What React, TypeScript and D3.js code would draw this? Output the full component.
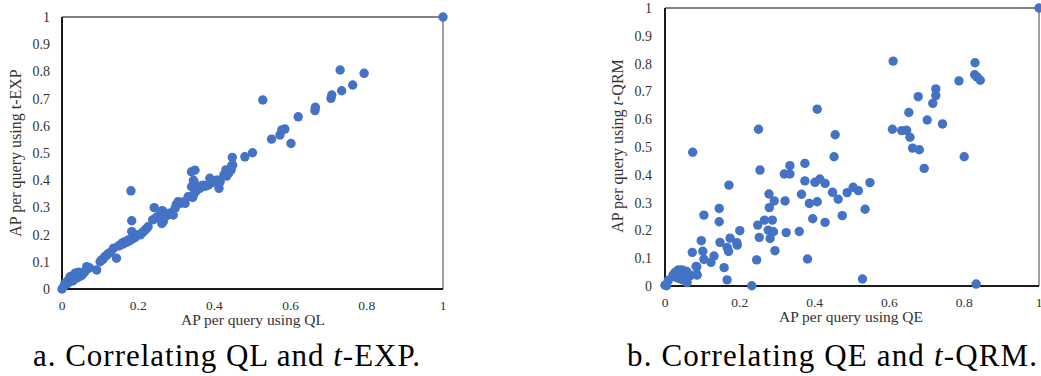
import React from "react";
import * as d3 from "d3";

// ---- Data ----
const yTicks = [0, 0.1, 0.2, 0.3, 0.4, 0.5, 0.6, 0.7, 0.8, 0.9, 1];
const yTickLabels = ["0", "0.1", "0.2", "0.3", "0.4", "0.5", "0.6", "0.7", "0.8", "0.9", "1"];
const xTicks = [0, 0.2, 0.4, 0.6, 0.8, 1];
const xTickLabels = ["0", "0.2", "0.4", "0.6", "0.8", "1"];

// Panel a: QL (x) vs t-EXP (y)
const apQL: number[] = [
  0, 0.005, 0.008, 0.012, 0.015, 0.018, 0.021, 0.022, 0.025, 0.028, 0.03, 0.03, 0.034, 0.035, 0.038, 0.04,
  0.043, 0.045, 0.048, 0.05, 0.052, 0.055, 0.058, 0.06, 0.065, 0.068, 0.072, 0.091, 0.1, 0.104, 0.108, 0.113,
  0.118, 0.122, 0.128, 0.135, 0.143, 0.148, 0.152, 0.157, 0.16, 0.165, 0.17, 0.174, 0.178, 0.181, 0.183, 0.183,
  0.186, 0.192, 0.198, 0.205, 0.21, 0.214, 0.218, 0.222, 0.226, 0.238, 0.242, 0.245, 0.25, 0.255, 0.262, 0.263,
  0.266, 0.262, 0.27, 0.275, 0.28, 0.285, 0.292, 0.297, 0.3, 0.305, 0.31, 0.318, 0.323, 0.331, 0.34, 0.349,
  0.343, 0.345, 0.34, 0.345, 0.347, 0.352, 0.357, 0.362, 0.367, 0.371, 0.376, 0.384, 0.388, 0.392, 0.398, 0.405,
  0.41, 0.412, 0.415, 0.425, 0.43, 0.432, 0.437, 0.441, 0.444, 0.445, 0.448, 0.447, 0.48, 0.5, 0.527, 0.55,
  0.572, 0.577, 0.585, 0.601, 0.62, 0.664, 0.665, 0.706, 0.708, 0.73, 0.734, 0.763, 0.793, 1,
];
const apTEXP: number[] = [
  0, 0.01, 0.021, 0.018, 0.03, 0.025, 0.045, 0.035, 0.04, 0.03, 0.033, 0.05, 0.058, 0.045, 0.04, 0.05,
  0.062, 0.045, 0.055, 0.05, 0.051, 0.058, 0.06, 0.065, 0.082, 0.075, 0.078, 0.07, 0.1, 0.107, 0.11, 0.12,
  0.125, 0.131, 0.135, 0.15, 0.113, 0.158, 0.16, 0.168, 0.165, 0.174, 0.172, 0.18, 0.178, 0.361, 0.251, 0.211,
  0.185, 0.19, 0.2, 0.199, 0.205, 0.212, 0.217, 0.222, 0.229, 0.254, 0.299, 0.26, 0.265, 0.27, 0.257, 0.288,
  0.248, 0.241, 0.28, 0.27, 0.275, 0.28, 0.272, 0.297, 0.31, 0.321, 0.315, 0.32, 0.315, 0.339, 0.431, 0.437,
  0.337, 0.346, 0.376, 0.4, 0.391, 0.36, 0.37, 0.37, 0.38, 0.382, 0.378, 0.382, 0.407, 0.39, 0.395, 0.4,
  0.4, 0.37, 0.394, 0.42, 0.438, 0.415, 0.425, 0.437, 0.438, 0.453, 0.456, 0.484, 0.486, 0.501, 0.695, 0.551,
  0.566, 0.585, 0.588, 0.535, 0.633, 0.656, 0.668, 0.701, 0.713, 0.805, 0.729, 0.75, 0.793, 1,
];

// Panel b: QE (x) vs t-QRM (y)
const apQE: number[] = [
  1, 0.61, 0.829, 0.828, 0.834, 0.843, 0.786, 0.724, 0.724, 0.716, 0.677, 0.652, 0.701, 0.742, 0.608, 0.633,
  0.646, 0.655, 0.662, 0.68, 0.693, 0.8, 0.832, 0.407, 0.455, 0.452, 0.25, 0.074, 0.254, 0.334, 0.319, 0.334,
  0.374, 0.374, 0.401, 0.414, 0.428, 0.171, 0.548, 0.503, 0.517, 0.487, 0.448, 0.463, 0.365, 0.278, 0.292, 0.321,
  0.386, 0.407, 0.279, 0.535, 0.474, 0.395, 0.428, 0.266, 0.287, 0.248, 0.276, 0.29, 0.324, 0.359, 0.252, 0.281,
  0.294, 0.245, 0.381, 0.528, 0.232, 0.2, 0.174, 0.192, 0.193, 0.166, 0.17, 0.147, 0.145, 0.145, 0.104, 0.097,
  0.073, 0.101, 0.131, 0.104, 0.123, 0.083, 0.158, 0.086, 0.166, 0.004, 0, 0.009, 0.027, 0.036, 0.049, 0.031,
  0.045, 0.059, 0.066, 0.022, 0.04, 0.054, 0.031, 0.045, 0.058, 0.036, 0.058, 0.067, 0.085, 0.085, 0.022, 0.049,
];
const apTQRM: number[] = [
  1, 0.809, 0.803, 0.76, 0.752, 0.74, 0.738, 0.709, 0.685, 0.657, 0.681, 0.624, 0.597, 0.583, 0.564, 0.559,
  0.56, 0.535, 0.496, 0.49, 0.423, 0.465, 0.007, 0.636, 0.544, 0.465, 0.564, 0.481, 0.417, 0.433, 0.403, 0.403,
  0.441, 0.378, 0.373, 0.385, 0.369, 0.363, 0.372, 0.355, 0.343, 0.336, 0.337, 0.312, 0.33, 0.331, 0.306, 0.306,
  0.297, 0.303, 0.282, 0.276, 0.253, 0.242, 0.229, 0.237, 0.237, 0.219, 0.201, 0.195, 0.192, 0.196, 0.175, 0.171,
  0.127, 0.094, 0.097, 0.025, 0.001, 0.199, 0.172, 0.156, 0.147, 0.139, 0.124, 0.157, 0.279, 0.231, 0.255, 0.163,
  0.121, 0.125, 0.108, 0.096, 0.085, 0.07, 0.066, 0.04, 0.022, 0.001, 0.003, 0.021, 0.048, 0.058, 0.055, 0.031,
  0.024, 0.012, 0.036, 0.038, 0.038, 0.038, 0.052, 0.058, 0.052, 0.028, 0.016, 0.04, 0.04, 0.069, 0.04, 0.022,
];

const BLUE = "#4472C4";
const SERIF = "'Liberation Serif', 'Times New Roman', serif";

type PanelProps = {
  xs: number[];
  ys: number[];
  left: number;
  right: number;
  top: number;
  bottom: number;
  yLabelRight: number;
  xLabelBaseline: number;
  xTitle: React.ReactNode;
  xTitleX: number;
  xTitleY: number;
  yTitle: React.ReactNode;
  yTitleX: number;
  yTitleY: number;
};

function Panel(p: PanelProps) {
  const x = d3.scaleLinear().domain([0, 1]).range([p.left, p.right]);
  const y = d3.scaleLinear().domain([0, 1]).range([p.bottom, p.top]);
  return (
    <g>
      {/* frame */}
      <line x1={x(0)} x2={x(1)} y1={y(1)} y2={y(1)} stroke="#595959" strokeWidth={1.5} />
      <line x1={x(1)} x2={x(1)} y1={y(0)} y2={y(1)} stroke="#7f7f7f" strokeWidth={1.5} />
      <line x1={x(0)} x2={x(1)} y1={y(0)} y2={y(0)} stroke="#1a1a1a" strokeWidth={2} />
      <line x1={x(0)} x2={x(0)} y1={y(0) + 1} y2={y(1)} stroke="#1a1a1a" strokeWidth={2} />
      {yTicks.map((t, i) => (
        <text key={"y" + i} x={p.yLabelRight} y={y(t)} dy="0.35em" textAnchor="end" fontFamily={SERIF} fontSize={14} fill="#333">
          {yTickLabels[i]}
        </text>
      ))}
      {xTicks.map((t, i) => (
        <text key={"x" + i} x={x(t)} y={p.xLabelBaseline} textAnchor="middle" fontFamily={SERIF} fontSize={13.5} fill="#333">
          {xTickLabels[i]}
        </text>
      ))}
      <text x={p.xTitleX} y={p.xTitleY} textAnchor="middle" fontFamily={SERIF} fontSize={15.5} fill="#333">
        {p.xTitle}
      </text>
      <text
        transform={`translate(${p.yTitleX},${p.yTitleY}) rotate(-90)`}
        textAnchor="middle"
        fontFamily={SERIF}
        fontSize={16}
        fill="#333"
      >
        {p.yTitle}
      </text>
      {p.xs.map((v, i) => (
        <circle key={"c" + i} cx={x(v)} cy={y(p.ys[i])} r={4.7} fill={BLUE} />
      ))}
    </g>
  );
}

export default function App() {
  return (
    <svg width={1041} height={376} style={{ position: "absolute", left: 0, top: 0, background: "#fff" }}>
      <rect x={0} y={0} width={1041} height={376} fill="#fff" />
      <Panel
        xs={apQL}
        ys={apTEXP}
        left={62}
        right={443}
        top={17}
        bottom={289}
        yLabelRight={50}
        xLabelBaseline={310}
        xTitle="AP per query using QL"
        xTitleX={253}
        xTitleY={325}
        yTitle="AP per query using t-EXP"
        yTitleX={21}
        yTitleY={153}
      />
      <Panel
        xs={apQE}
        ys={apTQRM}
        left={665}
        right={1039}
        top={8}
        bottom={286}
        yLabelRight={652}
        xLabelBaseline={307}
        xTitle="AP per query using QE"
        xTitleX={851}
        xTitleY={322}
        yTitle={
          <>
            {"AP per query using "}
            <tspan fontStyle="italic">t</tspan>
            {"-QRM"}
          </>
        }
        yTitleX={623}
        yTitleY={146}
      />
      <text x={33} y={366} fontFamily={SERIF} fontSize={31} fill="#000" textLength={387} lengthAdjust="spacing">
        {"a. Correlating QL and "}
        <tspan fontStyle="italic">t</tspan>
        {"-EXP."}
      </text>
      <text x={627} y={366} fontFamily={SERIF} fontSize={31} fill="#000" textLength={410} lengthAdjust="spacing">
        {"b. Correlating QE and "}
        <tspan fontStyle="italic">t</tspan>
        {"-QRM."}
      </text>
    </svg>
  );
}
